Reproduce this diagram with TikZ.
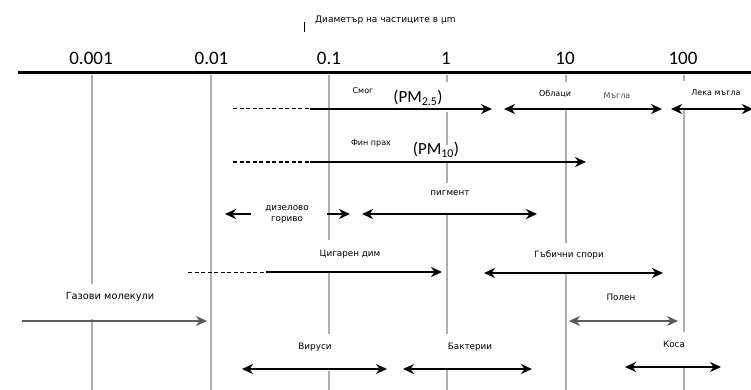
\documentclass[tikz,border=0pt]{standalone}
\usepackage{fontspec}
\setmainfont{Carlito}
\newfontfamily\lblfont{DejaVu Sans}
\usetikzlibrary{arrows.meta}
\definecolor{gridgray}{RGB}{175,175,175}
\definecolor{darkarrow}{RGB}{90,90,90}
\definecolor{fogtext}{RGB}{70,70,95}
\begin{document}
\begin{tikzpicture}[x=1pt,y=-1pt,
  gridline/.style={line width=2.8pt, draw=gridgray},
  axisline/.style={line width=3pt, draw=black},
  ticklbl/.style={font=\fontsize{19}{19}\selectfont, inner sep=0pt},
  pmlbl/.style={font=\fontsize{17}{17}\selectfont, inner sep=0pt},
  lbl/.style={font=\lblfont\fontsize{8.8}{11}\selectfont, inner sep=0pt, align=center},
  sml/.style={font=\lblfont\fontsize{8}{9.5}\selectfont, inner sep=0pt},
  tipstyle/.tip={Stealth[length=11pt,width=10pt,inset=3.5pt]},
  arr/.style={line width=1.4pt, draw=black, -tipstyle},
  darr/.style={line width=1.4pt, draw=black, tipstyle-tipstyle},
  larr/.style={line width=1.4pt, draw=black, tipstyle-},
  dash line/.style={line width=1pt, draw=black, dash pattern=on 4pt off 2.5pt},
]
\useasboundingbox (0,0) rectangle (751,390);

% title
\node[lbl, font=\lblfont\fontsize{9}{10}\selectfont, anchor=west] (title) at (315,20) {Диаметър на частиците в μm};
\draw[line width=1pt] (304,22) -- (304,32);

% tick labels
\node[ticklbl] (t1) at (91,58.5) {0.001};
\node[ticklbl] (t2) at (211.5,58.5) {0.01};
\node[ticklbl] (t3) at (329,58.5) {0.1};
\node[ticklbl] (t4) at (446,58.5) {1};
\node[ticklbl] (t5) at (565,58.5) {10};
\node[ticklbl] (t6) at (683,58.5) {100};

% grid lines (interrupted behind labels)
\draw[gridline] (92,75) -- (92,284) (92,319) -- (92,390);
\draw[gridline] (211,75) -- (211,390);
\draw[gridline] (329,75) -- (329,240) (329,273) -- (329,334) (329,371) -- (329,390);
\draw[gridline] (447,75) -- (447,82) (447,112) -- (447,145) (447,163) -- (447,183) (447,213) -- (447,334) (447,370) -- (447,390);
\draw[gridline] (566,75) -- (566,82) (566,110) -- (566,243) (566,274) -- (566,390);
\draw[gridline] (684,75) -- (684,81) (684,110) -- (684,332) (684,368) -- (684,390);

% axis
\draw[axisline] (18,73) -- (751,73);

% row 1
\coordinate (s1) at (233,109);
\coordinate (m1) at (310,109);
\coordinate (e1) at (492,109);
\draw[dash line] (s1) -- (m1);
\draw[arr] (m1) -- (e1);
\coordinate (c1a) at (504,109);
\coordinate (c1b) at (662,109);
\draw[darr] (c1a) -- (c1b);
\coordinate (f1a) at (671,109);
\coordinate (f1b) at (753,109);
\draw[darr] (f1a) -- (f1b);
\node[sml] (smog) at (363,91) {Смог};
\node[pmlbl] (pm25) at (418,98) {(PM\textsubscript{2.5})};
\node[sml] (clouds) at (555,94) {Облаци};
\node[sml, text=fogtext] (fog) at (617,96) {Мъгла};
\node[sml] (mist) at (716,93) {Лека мъгла};

% row 2
\coordinate (s2) at (233,162);
\coordinate (m2) at (310,162);
\coordinate (e2) at (586,162);
\draw[dash line] (s2) -- (m2);
\draw[arr] (m2) -- (e2);
\node[sml] (fine) at (371,143) {Фин прах};
\node[pmlbl] (pm10) at (436,150) {(PM\textsubscript{10})};

% row 3
\node[lbl] (diesel) at (287,214.5) {дизелово\\гориво};
\coordinate (d3a) at (225,214);
\coordinate (d3b) at (251,214);
\coordinate (d3c) at (327,214);
\coordinate (d3d) at (350,214);
\draw[larr] (d3a) -- (d3b);
\draw[arr] (d3c) -- (d3d);
\coordinate (p3a) at (362,214);
\coordinate (p3b) at (537,214);
\draw[darr] (p3a) -- (p3b);
\node[lbl] (pigment) at (450,193) {пигмент};

% row 4
\coordinate (s4) at (188,272);
\coordinate (m4) at (266,272);
\coordinate (e4) at (442,272);
\draw[dash line] (s4) -- (m4);
\draw[arr] (m4) -- (e4);
\node[lbl] (smoke) at (350,254) {Цигарен дим};
\coordinate (g4a) at (484,273);
\coordinate (g4b) at (663,273);
\draw[darr] (g4a) -- (g4b);
\node[lbl] (spores) at (569,255) {Гъбични спори};

% row 5
\node[lbl, font=\lblfont\fontsize{9.8}{11}\selectfont] (gas) at (110,297) {Газови молекули};
\coordinate (g5a) at (22,321);
\coordinate (g5b) at (207,321);
\draw[arr, draw=darkarrow] (g5a) -- (g5b);
\node[lbl] (pollen) at (621,297) {Полен};
\coordinate (p5a) at (569,321);
\coordinate (p5b) at (678,321);
\draw[darr, draw=darkarrow] (p5a) -- (p5b);

% row 6
\node[lbl] (virus) at (315,347) {Вируси};
\coordinate (v6a) at (242,369);
\coordinate (v6b) at (387,369);
\draw[darr] (v6a) -- (v6b);
\node[lbl] (bact) at (470,347) {Бактерии};
\coordinate (b6a) at (403,369);
\coordinate (b6b) at (532,369);
\draw[darr] (b6a) -- (b6b);
\node[lbl] (hair) at (674,344) {Коса};
\coordinate (h6a) at (625,367);
\coordinate (h6b) at (721,367);
\draw[darr] (h6a) -- (h6b);
\end{tikzpicture}
\end{document}
